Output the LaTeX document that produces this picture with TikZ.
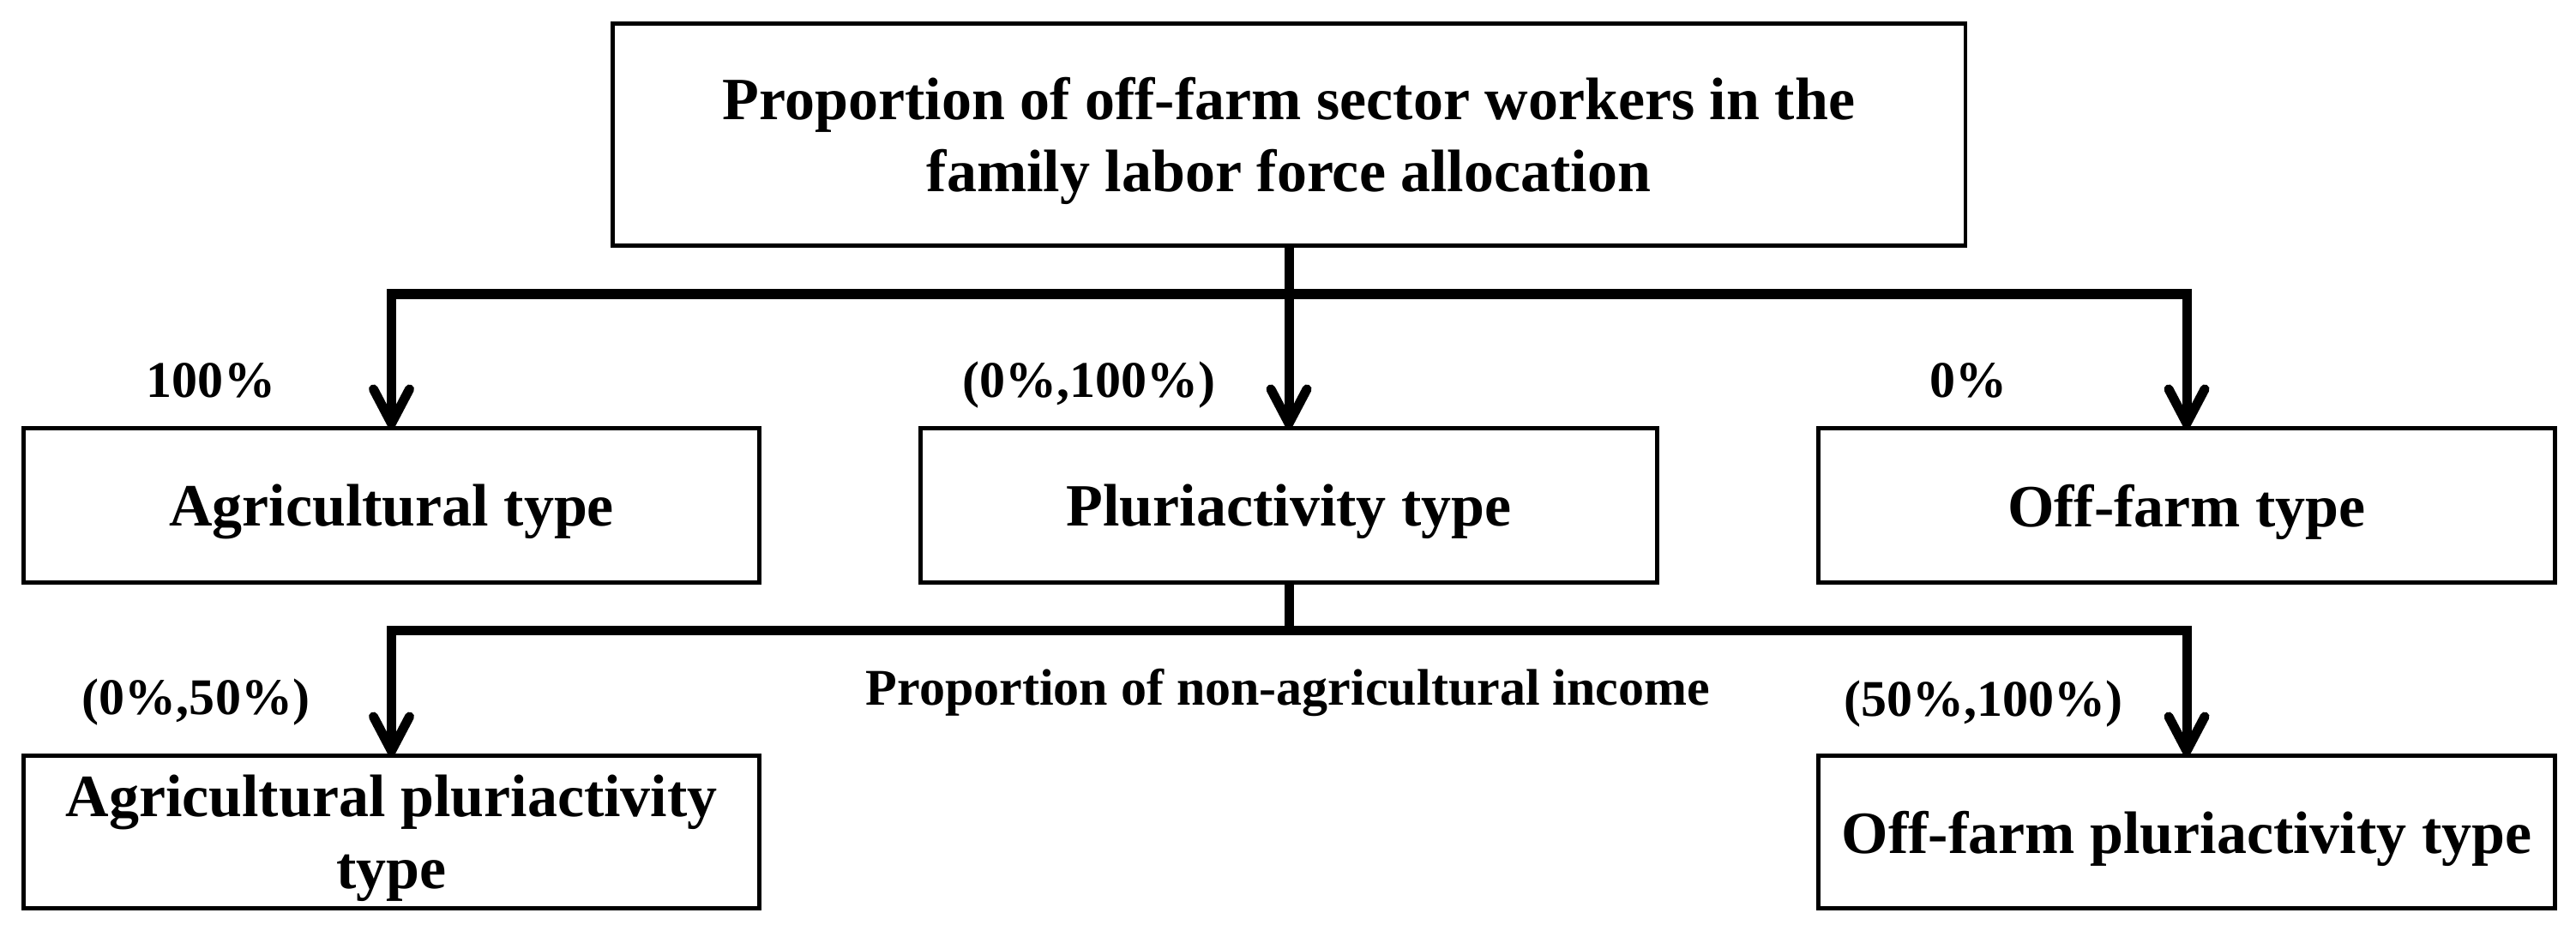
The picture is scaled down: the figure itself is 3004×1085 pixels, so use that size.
\documentclass[tikz,border=0pt]{standalone}
\usepackage{fontspec}
\setmainfont{Liberation Serif}
\usetikzlibrary{arrows.meta}
\newcommand\boxfont{\fontsize{19.9}{23.9}\selectfont\bfseries}
\newcommand\labfont{\fontsize{17.07}{20.5}\selectfont\bfseries}
\begin{document}
\begin{tikzpicture}[x=0.01cm,y=-0.01cm,
  box/.style={draw, line width=1.42pt, inner sep=0pt, outer sep=0pt,
    align=center, text depth=0pt, font=\boxfont},
  lowbox/.style={box, minimum width=8.58cm, minimum height=1.80cm},
  conn/.style={line width=3.13pt, line join=miter},
  arr/.style={conn, -{Straight Barb[round, length=0.40cm, width=0.42cm]}},
  lab/.style={anchor=base, inner sep=0pt, font=\labfont}]
\useasboundingbox (0,0) rectangle (3004,1085);
% boxes
\node[box, minimum width=15.77cm, minimum height=2.59cm] (top) at (1503,157)
  {Proportion of off-farm sector workers in the\\family labor force allocation};
\node[lowbox] (agr) at (456.5,589.5) {Agricultural type};
\node[lowbox] (pluri) at (1503,589.5) {Pluriactivity type};
\node[lowbox] (off) at (2550,589.5) {Off-farm type};
\node[lowbox, minimum height=1.78cm] (agrp) at (456.5,970.5) {Agricultural pluriactivity\\type};
\node[lowbox, minimum height=1.78cm] (offp) at (2550,970.5) {Off-farm pluriactivity type};
% junctions
\coordinate (j1) at (1503,343);
\coordinate (j2) at (1503,735);
% connectors
\draw[arr] (top.south) -- (pluri.north);
\draw[arr] (j1) -| (agr.north);
\draw[arr] (j1) -| (off.north);
\draw[conn] (pluri.south) -- (j2);
\draw[arr] (j2) -| (agrp.north);
\draw[arr] (j2) -| (offp.north);
% labels
\node[lab] (l1) at (246,463) {100\%};
\node[lab] (l2) at (1270,463) {(0\%,100\%)};
\node[lab] (l3) at (2295.5,463) {0\%};
\node[lab] (l4) at (228.5,833) {(0\%,50\%)};
\node[lab] (l5) at (1502,822) {Proportion of non-agricultural income};
\node[lab] (l6) at (2313,835) {(50\%,100\%)};
\end{tikzpicture}
\end{document}
